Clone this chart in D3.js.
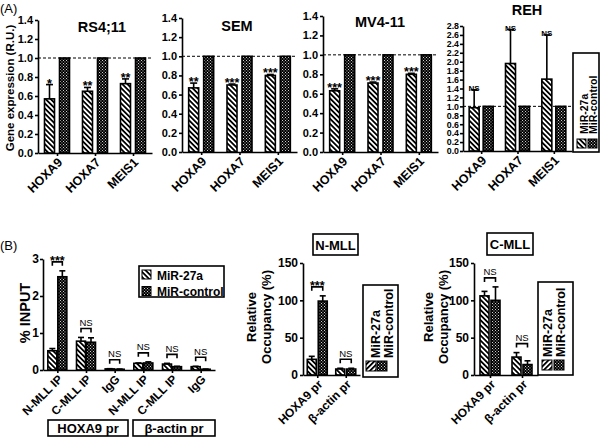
<!DOCTYPE html>
<html>
<head>
<meta charset="utf-8">
<script src="https://cdn.jsdelivr.net/npm/d3@7"></script>
<style>
  body { margin: 0; background: #fff; }
  text { font-family: Arial, "Liberation Sans", sans-serif; fill: #000; }
</style>
</head>
<body>
<div id="fig"></div>
<script>
// ---- data ----
const genes = ["HOXA9", "HOXA7", "MEIS1"];
const series = ["MiR-27a", "MiR-control"];

const rs411Mir = [0.57, 0.65, 0.73], rs411MirErr = [0.15, 0.04, 0.05];
const rs411Ctl = [1, 1, 1], rs411Sig = ["*", "**", "**"];
const semMir = [0.67, 0.70, 0.80], semMirErr = [0.05, 0.01, 0.01];
const semCtl = [1, 1, 1], semSig = ["**", "***", "***"];
const mvMir = [0.63, 0.71, 0.80], mvMirErr = [0.02, 0.01, 0.01];
const mvCtl = [1, 1, 1], mvSig = ["***", "***", "***"];
const rehMir = [0.97, 1.96, 1.61], rehMirErr = [0.40, 0.76, 0.99];
const rehCtl = [1, 1, 1], rehSig = ["NS", "NS", "NS"];
const ticksA = [0, 0.2, 0.4, 0.6, 0.8, 1.0, 1.2, 1.4];
const ticksReh = [0, 0.2, 0.4, 0.6, 0.8, 1.0, 1.2, 1.4, 1.6, 1.8, 2.0, 2.2, 2.4, 2.6, 2.8];

const chipCats = ["N-MLL IP", "C-MLL IP", "IgG", "N-MLL IP", "C-MLL IP", "IgG"];
const chipGroups = ["HOXA9 pr", "\u03B2-actin pr"];
const chipMir = [0.52, 0.78, 0.03, 0.18, 0.16, 0.09];
const chipMirErr = [0.06, 0.10, 0.005, 0.01, 0.02, 0.01];
const chipCtl = [2.52, 0.75, 0.02, 0.19, 0.09, 0.02];
const chipCtlErr = [0.16, 0.12, 0.005, 0.03, 0.01, 0.005];
const chipSig = ["***", "NS", "NS", "NS", "NS", "NS"];
const ticksChip = [0, 1, 2, 3];

const promoters = ["HOXA9 pr", "\u03B2-actin pr"];
const nMir = [21, 8], nMirErr = [4, 1], nCtl = [99, 8], nCtlErr = [7, 1], nSig = ["***", "NS"];
const cMir = [106, 24], cMirErr = [6, 6], cCtl = [100, 14], cCtlErr = [18, 5], cSig = ["NS", "NS"];
const ticksOcc = [0, 50, 100, 150];

// ---- svg + fills ----
const svg = d3.select("#fig").append("svg")
  .attr("width", 600).attr("height", 443);

const defs = svg.append("defs");
function hatch(id, angle) {
  const p = defs.append("pattern").attr("id", id)
    .attr("patternUnits", "userSpaceOnUse")
    .attr("width", 3.6).attr("height", 3.6)
    .attr("patternTransform", `rotate(${angle})`);
  p.append("rect").attr("width", 3.6).attr("height", 3.6).attr("fill", "#fff");
  p.append("line").attr("x1", 1.8).attr("y1", -1).attr("x2", 1.8).attr("y2", 5)
    .attr("stroke", "#000").attr("stroke-width", 1.8);
}
hatch("hatch", -45);
hatch("hatch2", 45);
const chk = defs.append("pattern").attr("id", "check")
  .attr("patternUnits", "userSpaceOnUse").attr("width", 3).attr("height", 3);
chk.append("rect").attr("width", 3).attr("height", 3).attr("fill", "#000");
chk.append("rect").attr("x", 0).attr("y", 0).attr("width", 0.9).attr("height", 0.9).attr("fill", "#fff");
chk.append("rect").attr("x", 1.5).attr("y", 1.5).attr("width", 0.9).attr("height", 0.9).attr("fill", "#fff");

const fills = ["url(#hatch)", "url(#check)"];
const LW = 1.6;

// ---- generic grouped bar chart ----
function barChart(o) {
  const g = svg.append("g");
  const idx = d3.range(o.cats.length);
  const x = d3.scalePoint().domain(idx).range([o.x0, o.x1]).padding(0.5);
  const y = d3.scaleLinear().domain([0, o.yMax]).range([o.y0, o.y1]);
  const sub = d3.scaleBand().domain([0, 1])
    .range([-(o.bw + o.gap / 2), o.bw + o.gap / 2])
    .paddingInner(o.gap / (o.bw + o.gap));
  const vals = [o.mir, o.ctl];
  const errs = [o.mirErr, o.ctlErr || []];

  if (o.ref != null) {
    g.append("line")
      .attr("x1", o.x0).attr("x2", o.x1)
      .attr("y1", y(o.ref)).attr("y2", y(o.ref))
      .attr("stroke", "#000").attr("stroke-width", 1)
      .attr("stroke-dasharray", "3,2");
  }

  [0, 1].forEach(s => {
    idx.forEach(i => {
      const v = vals[s][i];
      const e = errs[s][i] || 0;
      const bx = x(i) + sub(s);
      const cx = bx + sub.bandwidth() / 2;
      if (e > 0) {
        g.append("line").attr("x1", cx).attr("x2", cx)
          .attr("y1", y(v)).attr("y2", y(v + e))
          .attr("stroke", "#000").attr("stroke-width", LW);
        g.append("line").attr("x1", cx - o.cap).attr("x2", cx + o.cap)
          .attr("y1", y(v + e)).attr("y2", y(v + e))
          .attr("stroke", "#000").attr("stroke-width", LW);
      }
      g.append("rect")
        .attr("x", bx).attr("y", y(v))
        .attr("width", sub.bandwidth()).attr("height", y(0) - y(v))
        .attr("fill", fills[s]).attr("stroke", "#000").attr("stroke-width", LW);
    });
  });

  // significance marks
  idx.forEach(i => {
    const top0 = o.mir[i] + (o.mirErr[i] || 0);
    const top1 = o.ctl[i] + ((o.ctlErr || [])[i] || 0);
    const c0 = x(i) + sub(0) + sub.bandwidth() / 2;
    const c1 = x(i) + sub(1) + sub.bandwidth() / 2;
    const lab = o.sig[i];
    const star = lab !== "NS";
    if (o.bracket) {
      const by = y(Math.max(top0, top1)) - 9;
      g.append("path")
        .attr("d", `M${c0},${by + 4}V${by}H${c1}V${by + 4}`)
        .attr("fill", "none").attr("stroke", "#000").attr("stroke-width", LW);
      g.append("text").attr("x", (c0 + c1) / 2)
        .attr("y", star ? by + 3 : by - 2.5)
        .attr("text-anchor", "middle")
        .attr("font-size", star ? 12.5 : 9.5)
        .attr("font-weight", star ? "bold" : "normal")
        .text(lab);
    } else {
      g.append("text").attr("x", c0)
        .attr("y", y(top0) + (star ? 3 : 1))
        .attr("text-anchor", "middle")
        .attr("font-size", star ? 12.5 : 8)
        .attr("font-weight", "bold")
        .text(lab);
    }
  });

  // axes
  const ya = g.append("g").attr("transform", `translate(${o.x0},0)`)
    .call(d3.axisLeft(y).tickValues(o.ticks).tickFormat(o.fmt)
      .tickSize(3).tickSizeOuter(0).tickPadding(o.tickPad || 2));
  ya.selectAll("text").attr("font-size", o.tickFs).attr("font-weight", "bold")
    .attr("font-family", "Arial, 'Liberation Sans', sans-serif");
  g.append("g").attr("transform", `translate(0,${o.y0})`)
    .call(d3.axisBottom(x).tickFormat("").tickSize(3).tickSizeOuter(0));
  g.selectAll(".domain, .tick line").attr("stroke", "#000").attr("stroke-width", LW);

  idx.forEach(i => {
    g.append("text")
      .attr("transform", `translate(${x(i) + o.lx},${o.y0 + o.ly}) rotate(-45)`)
      .attr("text-anchor", "end").attr("dy", "0.35em")
      .attr("font-size", o.labFs).attr("font-weight", "bold")
      .text(o.cats[i]);
  });

  if (o.title) {
    g.append("text").attr("x", o.title[1]).attr("y", o.title[2])
      .attr("text-anchor", "middle").attr("font-size", 14.5)
      .attr("font-weight", "bold").text(o.title[0]);
  }
  return { x, y };
}

// rotated legend (text reads bottom to top)
function vLegend(b, fs, cols, textBottom, sw) {
  svg.append("rect").attr("x", b[0]).attr("y", b[1])
    .attr("width", b[2] - b[0]).attr("height", b[3] - b[1])
    .attr("fill", "#fff").attr("stroke", "#000").attr("stroke-width", LW);
  series.forEach((s, k) => {
    svg.append("text")
      .attr("transform", `translate(${cols[k]},${textBottom}) rotate(-90)`)
      .attr("dy", "0.35em").attr("font-size", fs).attr("font-weight", "bold")
      .text(s);
    svg.append("rect").attr("x", sw.x[k]).attr("y", sw.y)
      .attr("width", sw.s).attr("height", sw.s)
      .attr("fill", k === 0 ? sw.hatch : "url(#check)")
      .attr("stroke", "#000").attr("stroke-width", 1);
  });
}

function boxText(b, label, fs, by) {
  svg.append("rect").attr("x", b[0]).attr("y", b[1])
    .attr("width", b[2] - b[0]).attr("height", b[3] - b[1])
    .attr("fill", "#fff").attr("stroke", "#000").attr("stroke-width", LW);
  svg.append("text").attr("x", (b[0] + b[2]) / 2).attr("y", by)
    .attr("text-anchor", "middle").attr("font-size", fs)
    .attr("font-weight", "bold").text(label);
}

function rotLabel(lines, xs, cy, fs) {
  lines.forEach((t, k) => {
    svg.append("text")
      .attr("transform", `translate(${xs[k]},${cy}) rotate(-90)`)
      .attr("text-anchor", "middle").attr("dy", "0.35em")
      .attr("font-size", fs).attr("font-weight", "bold").text(t);
  });
}

// ---- Panel A ----
svg.append("text").attr("x", 0).attr("y", 13).attr("font-size", 13).text("(A)");
rotLabel(["Gene expression (R.U.)"], [10], 88, 11.5);

const fmt1 = d3.format(".1f");
const common = { cats: genes, bw: 10, gap: 5, cap: 3.5, ref: 1, ticks: ticksA,
  fmt: fmt1, tickFs: 11, labFs: 12.5, lx: 3, ly: 7, yMax: 1.4 };

barChart(Object.assign({}, common, { x0: 38, x1: 152, y0: 153, y1: 20,
  mir: rs411Mir, mirErr: rs411MirErr, ctl: rs411Ctl, sig: rs411Sig,
  title: ["RS4;11", 102, 32] }));
barChart(Object.assign({}, common, { x0: 182, x1: 297, y0: 152, y1: 18,
  mir: semMir, mirErr: semMirErr, ctl: semCtl, sig: semSig,
  title: ["SEM", 237, 31] }));
barChart(Object.assign({}, common, { x0: 323, x1: 438, y0: 152, y1: 16,
  mir: mvMir, mirErr: mvMirErr, ctl: mvCtl, sig: mvSig,
  title: ["MV4-11", 380, 27] }));
barChart(Object.assign({}, common, { x0: 463, x1: 572, y0: 151, y1: 26,
  yMax: 2.8, ticks: ticksReh, tickFs: 8.8, tickPad: 1, gap: 4,
  mir: rehMir, mirErr: rehMirErr, ctl: rehCtl, sig: rehSig,
  title: ["REH", 527, 15] }));
vLegend([573, 53, 599, 152], 10.5, [584, 593], 134,
  { x: [577, 588], y: 139, s: 9, hatch: "url(#hatch)" });

// ---- Panel B ----
svg.append("text").attr("x", 0).attr("y", 250).attr("font-size", 13).text("(B)");

rotLabel(["% INPUT"], [25], 313, 14.5);
barChart({ cats: chipCats, x0: 43, x1: 215, y0: 370, y1: 259, yMax: 3,
  bw: 9, gap: 1, cap: 3, ticks: ticksChip, fmt: d3.format("d"), tickFs: 12,
  tickPad: 1, labFs: 11.8, lx: 3, ly: 7, bracket: true,
  mir: chipMir, mirErr: chipMirErr, ctl: chipCtl, ctlErr: chipCtlErr, sig: chipSig });

// horizontal legend
svg.append("rect").attr("x", 139).attr("y", 266).attr("width", 85).attr("height", 31)
  .attr("fill", "#fff").attr("stroke", "#000").attr("stroke-width", LW);
series.forEach((s, k) => {
  svg.append("rect").attr("x", 142).attr("y", 270 + k * 16.5).attr("width", 9).attr("height", 9)
    .attr("fill", fills[k]).attr("stroke", "#000").attr("stroke-width", 1);
  svg.append("text").attr("x", 157).attr("y", 279.5 + k * 16.5)
    .attr("font-size", 12).attr("font-weight", "bold").text(s);
});
boxText([48, 420, 128, 436], chipGroups[0], 13, 433);
boxText([133, 420, 215, 436], chipGroups[1], 13, 433);

// N-MLL
rotLabel(["Relative", "Occupancy (%)"], [251, 266], 317, 13);
boxText([313, 234, 358, 255], "N-MLL", 13, 249.5);
barChart({ cats: promoters, x0: 303, x1: 360, y0: 375, y1: 263, yMax: 150,
  bw: 9, gap: 2, cap: 3, ticks: ticksOcc, fmt: d3.format("d"), tickFs: 12,
  labFs: 12, lx: 3, ly: 7, bracket: true,
  mir: nMir, mirErr: nMirErr, ctl: nCtl, ctlErr: nCtlErr, sig: nSig });
vLegend([363, 285, 398, 377], 12.5, [376, 389], 358,
  { x: [366, 377], y: 361, s: 10, hatch: "url(#hatch2)" });

// C-MLL
rotLabel(["Relative", "Occupancy (%)"], [428, 443], 317, 13);
boxText([487, 233, 533, 255], "C-MLL", 13, 249);
barChart({ cats: promoters, x0: 474, x1: 538, y0: 375, y1: 263, yMax: 150,
  bw: 9, gap: 2, cap: 3, ticks: ticksOcc, fmt: d3.format("d"), tickFs: 12,
  labFs: 12, lx: 3, ly: 7, bracket: true,
  mir: cMir, mirErr: cMirErr, ctl: cCtl, ctlErr: cCtlErr, sig: cSig });
vLegend([538, 282, 573, 375], 12.5, [548, 561], 357,
  { x: [542, 554], y: 360, s: 10, hatch: "url(#hatch2)" });
</script>
</body>
</html>
